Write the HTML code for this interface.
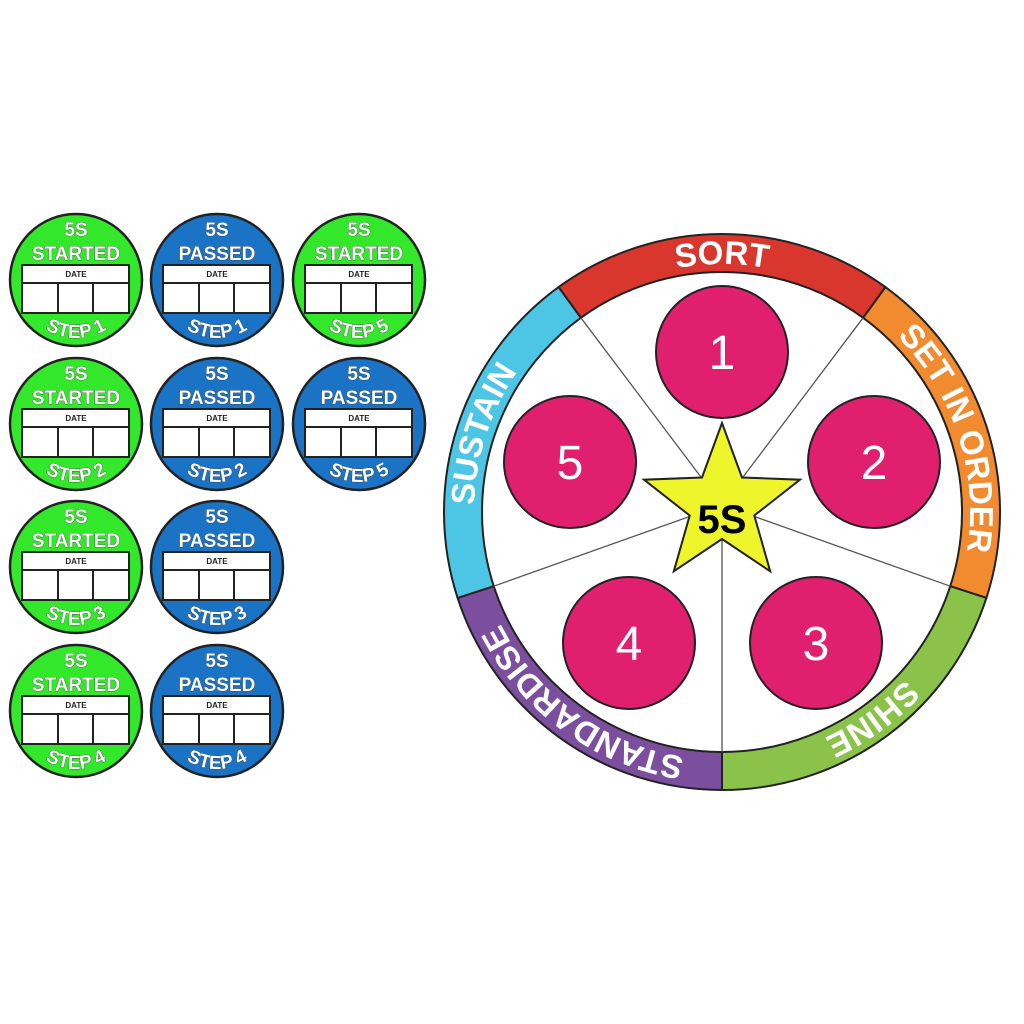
<!DOCTYPE html>
<html><head><meta charset="utf-8"><style>
html,body{margin:0;padding:0;background:#fff;}
svg{display:block;font-family:"Liberation Sans",sans-serif;}
.bt{fill:#fff;font-weight:bold;font-size:19px;text-anchor:middle;stroke:#333;stroke-width:0.6;paint-order:stroke;}
.dt{font-size:8px;font-weight:bold;fill:#222;text-anchor:middle;}
.rt{fill:#fff;font-weight:bold;font-size:33px;}
</style></head><body>
<svg width="1024" height="1024" viewBox="0 0 1024 1024">
<defs>
<path id="stp" d="M -58 0 A 58 58 0 0 0 58 0"/>
<g id="box">
<rect x="-54" y="-15" width="107" height="48" fill="#fff" stroke="#222" stroke-width="2"/>
<line x1="-54" y1="3" x2="53" y2="3" stroke="#222" stroke-width="2"/>
<line x1="-18" y1="3" x2="-18" y2="33" stroke="#222" stroke-width="2"/>
<line x1="17" y1="3" x2="17" y2="33" stroke="#222" stroke-width="2"/>
<text class="dt" x="0" y="-3">DATE</text>
</g>
</defs>

<!-- badges -->
<g transform="translate(76,280)"><circle r="66" fill="#33e82a" stroke="#222" stroke-width="2.5"/><text class="bt" y="-44">5S</text><text class="bt" y="-20">STARTED</text><use href="#box"/><text class="bt"><textPath href="#stp" startOffset="50%">STEP 1</textPath></text></g>
<g transform="translate(217,280)"><circle r="66" fill="#1a73c4" stroke="#222" stroke-width="2.5"/><text class="bt" y="-44">5S</text><text class="bt" y="-20">PASSED</text><use href="#box"/><text class="bt"><textPath href="#stp" startOffset="50%">STEP 1</textPath></text></g>
<g transform="translate(359,280)"><circle r="66" fill="#33e82a" stroke="#222" stroke-width="2.5"/><text class="bt" y="-44">5S</text><text class="bt" y="-20">STARTED</text><use href="#box"/><text class="bt"><textPath href="#stp" startOffset="50%">STEP 5</textPath></text></g>

<g transform="translate(76,424)"><circle r="66" fill="#33e82a" stroke="#222" stroke-width="2.5"/><text class="bt" y="-44">5S</text><text class="bt" y="-20">STARTED</text><use href="#box"/><text class="bt"><textPath href="#stp" startOffset="50%">STEP 2</textPath></text></g>
<g transform="translate(217,424)"><circle r="66" fill="#1a73c4" stroke="#222" stroke-width="2.5"/><text class="bt" y="-44">5S</text><text class="bt" y="-20">PASSED</text><use href="#box"/><text class="bt"><textPath href="#stp" startOffset="50%">STEP 2</textPath></text></g>
<g transform="translate(359,424)"><circle r="66" fill="#1a73c4" stroke="#222" stroke-width="2.5"/><text class="bt" y="-44">5S</text><text class="bt" y="-20">PASSED</text><use href="#box"/><text class="bt"><textPath href="#stp" startOffset="50%">STEP 5</textPath></text></g>

<g transform="translate(76,567)"><circle r="66" fill="#33e82a" stroke="#222" stroke-width="2.5"/><text class="bt" y="-44">5S</text><text class="bt" y="-20">STARTED</text><use href="#box"/><text class="bt"><textPath href="#stp" startOffset="50%">STEP 3</textPath></text></g>
<g transform="translate(217,567)"><circle r="66" fill="#1a73c4" stroke="#222" stroke-width="2.5"/><text class="bt" y="-44">5S</text><text class="bt" y="-20">PASSED</text><use href="#box"/><text class="bt"><textPath href="#stp" startOffset="50%">STEP 3</textPath></text></g>

<g transform="translate(76,711)"><circle r="66" fill="#33e82a" stroke="#222" stroke-width="2.5"/><text class="bt" y="-44">5S</text><text class="bt" y="-20">STARTED</text><use href="#box"/><text class="bt"><textPath href="#stp" startOffset="50%">STEP 4</textPath></text></g>
<g transform="translate(217,711)"><circle r="66" fill="#1a73c4" stroke="#222" stroke-width="2.5"/><text class="bt" y="-44">5S</text><text class="bt" y="-20">PASSED</text><use href="#box"/><text class="bt"><textPath href="#stp" startOffset="50%">STEP 4</textPath></text></g>

<!-- wheel ring -->
<g stroke="#222" stroke-width="2">
<path d="M722 512 L558.6 287.1 A278 278 0 0 1 885.4 287.1 Z" fill="#d9372e"/>
<path d="M722 512 L885.4 287.1 A278 278 0 0 1 986.4 597.9 Z" fill="#f28a30"/>
<path d="M722 512 L986.4 597.9 A278 278 0 0 1 722 790 Z" fill="#8bc34a"/>
<path d="M722 512 L722 790 A278 278 0 0 1 457.6 597.9 Z" fill="#7b4f9e"/>
<path d="M722 512 L457.6 597.9 A278 278 0 0 1 558.6 287.1 Z" fill="#4dc6e6"/>
<circle cx="722" cy="512" r="240" fill="#fff"/>
</g>
<g stroke="#555" stroke-width="1.3">
<line x1="722" y1="505" x2="863.1" y2="317.8"/>
<line x1="722" y1="505" x2="580.9" y2="317.8"/>
<line x1="722" y1="505" x2="950.3" y2="586.2"/>
<line x1="722" y1="505" x2="722" y2="752"/>
<line x1="722" y1="505" x2="493.7" y2="586.2"/>
</g>
<path id="a1" d="M576.2 311.4 A248 248 0 0 1 867.8 311.4" fill="none"/>
<path id="a2" d="M867.8 311.4 A248 248 0 0 1 957.9 588.6" fill="none"/>
<path id="a3" d="M957.9 588.6 A248 248 0 0 1 722 760" fill="none"/>
<path id="a4" d="M722 760 A248 248 0 0 1 486.1 588.6" fill="none"/>
<path id="a5" d="M486.1 588.6 A248 248 0 0 1 576.2 311.4" fill="none"/>
<g class="rt" text-anchor="middle">
<text><textPath href="#a1" startOffset="50%">SORT</textPath></text>
<text><textPath href="#a2" startOffset="50%">SET IN ORDER</textPath></text>
<text><textPath href="#a3" startOffset="50%">SHINE</textPath></text>
<text><textPath href="#a4" startOffset="50%">STANDARDISE</textPath></text>
<text><textPath href="#a5" startOffset="50%">SUSTAIN</textPath></text>
</g>

<g fill="#e0206e" stroke="#222" stroke-width="2">
<circle cx="722" cy="352" r="66"/>
<circle cx="874" cy="462" r="66"/>
<circle cx="816" cy="643" r="66"/>
<circle cx="629" cy="643" r="66"/>
<circle cx="570" cy="462" r="66"/>
</g>
<g fill="#fff" font-size="48" text-anchor="middle">
<text x="722" y="369">1</text>
<text x="874" y="479">2</text>
<text x="816" y="660">3</text>
<text x="629" y="660">4</text>
<text x="570" y="479">5</text>
</g>
<polygon points="722,423 742,477.5 800,479.7 754.3,515.5 770.2,571.3 722,539 673.8,571.3 689.7,515.5 644,479.7 702,477.5" fill="#eef52a" stroke="#222" stroke-width="2"/>
<text x="722" y="533" font-size="40" font-weight="bold" text-anchor="middle" fill="#000">5S</text>
</svg>
</body></html>
